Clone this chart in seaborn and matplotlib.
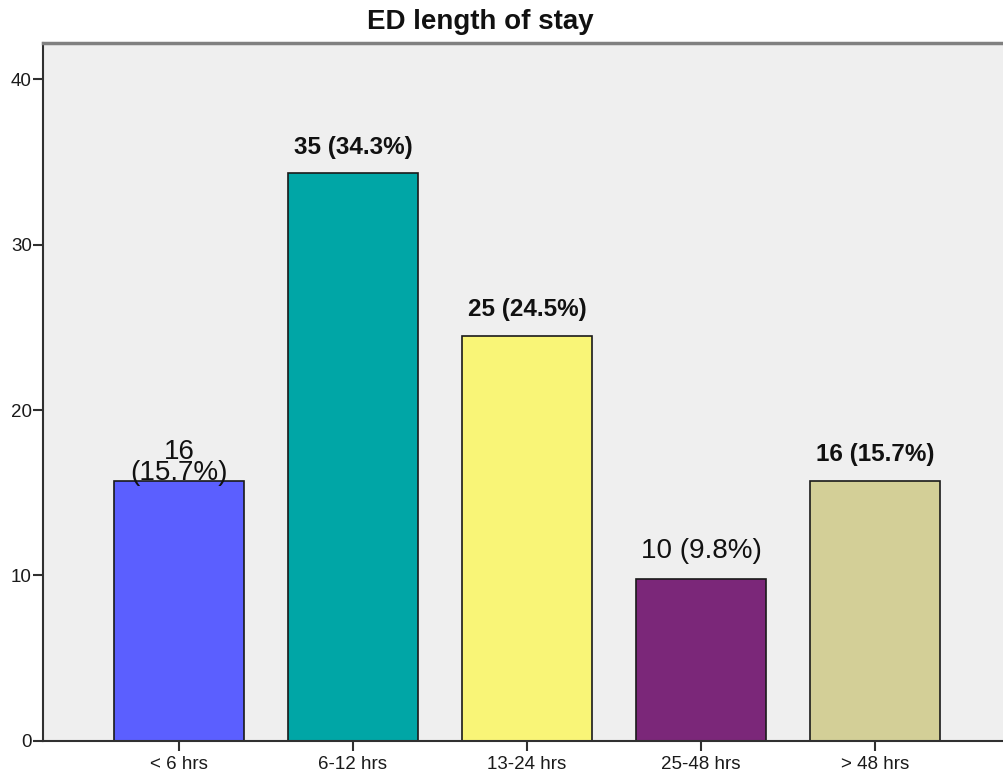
import matplotlib
matplotlib.use("Agg")
import matplotlib.pyplot as plt
import seaborn as sns
import pandas as pd

# Emergency department length of stay, 102 patients
categories = ["< 6 hrs", "6-12 hrs", "13-24 hrs", "25-48 hrs", "> 48 hrs"]
counts = [16, 35, 25, 10, 16]
percents = [15.7, 34.3, 24.5, 9.8, 15.7]
bar_colors = ["#5B5FFF", "#00A6A6", "#F9F577", "#7B2779", "#D3CF97"]
y_ticks = [0, 10, 20, 30, 40]

sns.set_theme(style="white")
plt.rcParams["font.family"] = ["Liberation Sans", "DejaVu Sans"]

df = pd.DataFrame({"category": categories, "percent": percents})

fig = plt.figure(figsize=(10.04, 7.78), dpi=100)
ax = fig.add_axes([0.0428, 0.0476, 0.9572, 0.8971])
ax.set_facecolor("#EFEFEF")

sns.barplot(data=df, x="category", y="percent", hue="category",
            palette=bar_colors, legend=False, width=0.747, saturation=1,
            edgecolor="#1a1a1a", linewidth=1.2, ax=ax)

ax.set_xlim(-0.782, 4.742)
ax.set_ylim(0, 42.18)
ax.set_yticks(y_ticks)
ax.set_xlabel("")
ax.set_ylabel("")

ax.spines["right"].set_visible(False)
ax.spines["top"].set_color("#808080")
ax.spines["top"].set_linewidth(2.5)
ax.spines["left"].set_color("#303030")
ax.spines["left"].set_linewidth(1.5)
ax.spines["bottom"].set_color("#303030")
ax.spines["bottom"].set_linewidth(1.5)
ax.tick_params(axis="both", which="both", direction="out", length=7,
               width=1.5, color="#303030", labelsize=13.5,
               labelcolor="#1a1a1a", left=True, bottom=True)
ax.tick_params(axis="y", pad=1)
ax.tick_params(axis="x", pad=4)

# Value labels above bars
for i, (c, p) in enumerate(zip(counts, percents)):
    if i == 0:
        ax.text(i, p - 0.3, f"{c}\n({p}%)", ha="center", va="bottom",
                fontsize=20, linespacing=0.78, color="#111111")
    elif i == 3:
        ax.text(i, p + 0.9, f"{c} ({p}%)", ha="center", va="bottom",
                fontsize=20, color="#111111")
    else:
        ax.text(i, p + 0.9, f"{c} ({p}%)", ha="center", va="bottom",
                fontsize=17.5, fontweight="bold", color="#111111")

fig.text(480 / 1004, 1 - 22 / 778, "ED length of stay", ha="center",
         va="center", fontsize=20, fontweight="bold", color="#111111")

fig.savefig("out.png", dpi=100, facecolor="white")
